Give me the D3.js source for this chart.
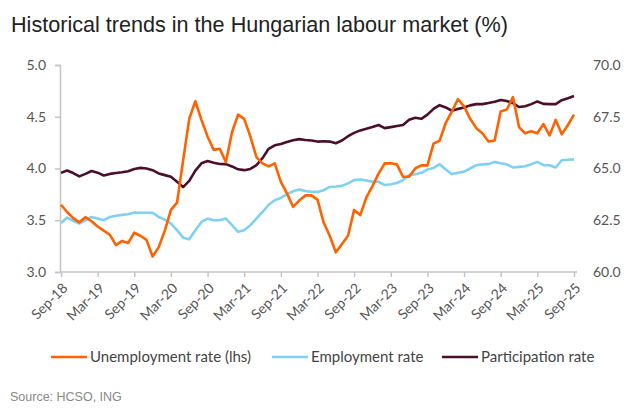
<!DOCTYPE html>
<html>
<head>
<meta charset="utf-8">
<script src="https://cdn.jsdelivr.net/npm/d3@7"></script>
<style>
  body { margin: 0; background: #fff; }
  .tick text { font-family: Lato, "Noto Sans", sans-serif; fill: #555; }
</style>
</head>
<body>
<div id="wrapper"></div>
<script>
// monthly, Sep-18 .. Sep-25 (85 points)
const unemployment = [
  3.65, 3.58, 3.52, 3.48, 3.53, 3.49, 3.44, 3.40, 3.36, 3.26,
  3.30, 3.28, 3.38, 3.35, 3.31, 3.15, 3.24, 3.40, 3.60, 3.67,
  4.08, 4.48, 4.65, 4.47, 4.31, 4.18, 4.19, 4.06, 4.35, 4.52,
  4.48, 4.31, 4.11, 4.05, 4.02, 4.05, 3.87, 3.76, 3.63, 3.69,
  3.74, 3.74, 3.70, 3.48, 3.35, 3.19, 3.27, 3.35, 3.60, 3.55,
  3.72, 3.83, 3.95, 4.05, 4.05, 4.04, 3.92, 3.92, 4.00, 4.03,
  4.03, 4.24, 4.27, 4.44, 4.55, 4.67, 4.60, 4.48, 4.39, 4.34,
  4.26, 4.27, 4.55, 4.57, 4.69, 4.40, 4.34, 4.36, 4.34, 4.43,
  4.32, 4.47, 4.33, 4.42, 4.52
]
const employment = [
  62.37, 62.63, 62.47, 62.34, 62.50, 62.66, 62.58, 62.50, 62.66, 62.72,
  62.76, 62.79, 62.87, 62.86, 62.86, 62.86, 62.66, 62.53, 62.34, 62.02,
  61.66, 61.58, 62.02, 62.42, 62.58, 62.50, 62.50, 62.58, 62.26, 61.94,
  62.02, 62.26, 62.58, 62.90, 63.25, 63.47, 63.58, 63.76, 63.90, 63.99,
  63.91, 63.87, 63.87, 63.95, 64.11, 64.13, 64.16, 64.28, 64.44, 64.47,
  64.42, 64.36, 64.36, 64.20, 64.24, 64.30, 64.44, 64.68, 64.72, 64.79,
  64.95, 65.02, 65.21, 64.95, 64.73, 64.79, 64.85, 65.00, 65.16, 65.20,
  65.21, 65.32, 65.25, 65.20, 65.05, 65.08, 65.11, 65.21, 65.32, 65.16,
  65.16, 65.05, 65.40, 65.42, 65.44
]
const participation = [
  64.79, 64.90, 64.78, 64.62, 64.74, 64.88, 64.80, 64.66, 64.74, 64.78,
  64.82, 64.87, 64.98, 65.03, 65.00, 64.92, 64.76, 64.68, 64.60, 64.36,
  64.10, 64.40, 64.90, 65.25, 65.36, 65.28, 65.22, 65.21, 65.10, 64.96,
  64.92, 64.98, 65.16, 65.50, 65.95, 66.12, 66.18, 66.28, 66.36, 66.42,
  66.38, 66.35, 66.30, 66.32, 66.30, 66.22, 66.35, 66.56, 66.72, 66.84,
  66.92, 67.00, 67.10, 66.95, 67.00, 67.05, 67.10, 67.35, 67.45, 67.40,
  67.60, 67.88, 68.06, 67.95, 67.79, 67.88, 67.95, 68.05, 68.11, 68.11,
  68.16, 68.22, 68.31, 68.26, 68.16, 67.97, 68.01, 68.11, 68.24, 68.12,
  68.11, 68.11, 68.30, 68.39, 68.50
]
const tickLabels = ["Sep-18", "Mar-19", "Sep-19", "Mar-20", "Sep-20", "Mar-21", "Sep-21",
  "Mar-22", "Sep-22", "Mar-23", "Sep-23", "Mar-24", "Sep-24", "Mar-25", "Sep-25"]
const leftTicks = [3.0, 3.5, 4.0, 4.5, 5.0]
const rightTicks = [60.0, 62.5, 65.0, 67.5, 70.0]
const seriesNames = ["Unemployment rate (lhs)", "Employment rate", "Participation rate"]
const seriesColors = ["#ff6200", "#7fd0f2", "#4b0f2b"]

const width = 642, height = 415
const plot = { left: 61, right: 574, top: 65, bottom: 272 }

const svg = d3.select("#wrapper").append("svg")
  .attr("width", width)
  .attr("height", height)

svg.append("text")
  .attr("x", 11)
  .attr("y", 32)
  .attr("font-family", "Liberation Sans, Arial, sans-serif")
  .attr("font-size", 21.6)
  .attr("fill", "#222")
  .text("Historical trends in the Hungarian labour market (%)")

const x = d3.scaleLinear().domain([0, unemployment.length - 1]).range([plot.left, plot.right])
const yLeft = d3.scaleLinear().domain([3, 5]).range([plot.bottom, plot.top])
const yRight = d3.scaleLinear().domain([60, 70]).range([plot.bottom, plot.top])

const axisColor = "#c4c4c4"

// left axis
const gLeft = svg.append("g")
  .attr("transform", `translate(${plot.left - 1},0)`)
  .call(d3.axisLeft(yLeft).tickValues(leftTicks).tickFormat(d3.format(".1f")).tickSize(5).tickPadding(9))
gLeft.select(".domain").attr("stroke", axisColor).attr("stroke-width", 1.5)
gLeft.selectAll(".tick line").attr("stroke", axisColor).attr("stroke-width", 1.5)
gLeft.selectAll(".tick text").attr("font-size", 14)

// right axis, labels only
const gRight = svg.append("g")
  .attr("transform", `translate(${plot.right + 19},0)`)
  .call(d3.axisRight(yRight).tickValues(rightTicks).tickFormat(d3.format(".1f")).tickSize(0).tickPadding(0))
gRight.select(".domain").remove()
gRight.selectAll(".tick text").attr("font-size", 14)

// bottom axis
const tickIdx = tickLabels.map((d, k) => k * 6)
const gBottom = svg.append("g")
  .attr("transform", `translate(0,${plot.bottom})`)
  .call(d3.axisBottom(x).tickValues(tickIdx).tickFormat((d, k) => tickLabels[k]).tickSize(5).tickSizeOuter(0))
gBottom.select(".domain")
  .attr("d", `M${plot.left - 1},0H${plot.right + 3}`)
  .attr("stroke", axisColor).attr("stroke-width", 1.5)
gBottom.selectAll(".tick line").attr("stroke", axisColor).attr("stroke-width", 1.5)
gBottom.selectAll(".tick text")
  .attr("font-size", 14)
  .attr("text-anchor", "end")
  .attr("dy", 0)
  .attr("y", 0)
  .attr("transform", "translate(7,17) rotate(-45)")

// lines
const lineLeft = d3.line().x((d, i) => x(i)).y(d => yLeft(d))
const lineRight = d3.line().x((d, i) => x(i)).y(d => yRight(d))

const series = [
  { values: employment, line: lineRight, color: seriesColors[1] },
  { values: participation, line: lineRight, color: seriesColors[2] },
  { values: unemployment, line: lineLeft, color: seriesColors[0] }
]

svg.append("g").selectAll("path")
  .data(series)
  .enter().append("path")
  .attr("d", d => d.line(d.values))
  .attr("fill", "none")
  .attr("stroke", d => d.color)
  .attr("stroke-width", 2.6)
  .attr("stroke-linejoin", "round")

// legend
const legendX = [51, 272, 442]
const legend = svg.append("g").selectAll("g")
  .data(seriesNames)
  .enter().append("g")
  .attr("transform", (d, i) => `translate(${legendX[i]},357)`)

legend.append("line")
  .attr("x1", 0).attr("x2", 36)
  .attr("stroke", (d, i) => seriesColors[i])
  .attr("stroke-width", 2.6)

legend.append("text")
  .attr("x", 39)
  .attr("dy", "0.35em")
  .attr("font-family", "Lato, 'Noto Sans', sans-serif")
  .attr("font-size", 15)
  .attr("fill", "#444")
  .text(d => d)

svg.append("text")
  .attr("x", 10)
  .attr("y", 401)
  .attr("font-family", "Liberation Sans, Arial, sans-serif")
  .attr("font-size", 12.5)
  .attr("fill", "#888")
  .text("Source: HCSO, ING")
</script>
</body>
</html>
